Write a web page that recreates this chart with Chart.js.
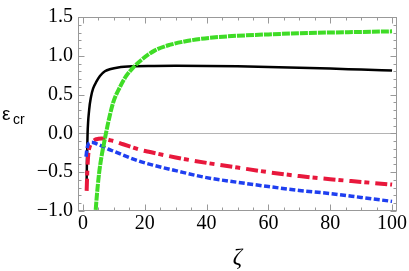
<!DOCTYPE html>
<html>
<head>
<meta charset="utf-8">
<script src="https://cdn.jsdelivr.net/npm/chart.js"></script>
<style>
  body { margin: 0; background: #fff; }
  canvas { display: block; }
</style>
</head>
<body>
<canvas id="chartEps" width="409" height="271"></canvas>
<script>
// zeta values and eps_cr values, one pair of arrays per curve
const zetaBlack = [1.15, 1.3, 1.5, 2.0, 2.6, 3.3, 4.4, 5.5, 7.1, 9, 11.4, 16, 23, 30, 40, 50, 60, 70, 80, 90, 100];
const epsBlack  = [-0.72, -0.35, 0.0, 0.3, 0.47, 0.58, 0.67, 0.74, 0.80, 0.83, 0.85, 0.865, 0.87, 0.872, 0.87, 0.865, 0.855, 0.845, 0.835, 0.822, 0.81];

const zetaGreen = [3.9, 4.5, 5.2, 6, 6.9, 8.2, 9.8, 12, 14, 16.3, 19, 23.3, 28, 35, 42, 50, 60, 70, 80, 90, 100];
const epsGreen  = [-1.1, -0.8, -0.52, -0.3, -0.11, 0.146, 0.40, 0.60, 0.74, 0.85, 0.95, 1.07, 1.14, 1.20, 1.235, 1.258, 1.276, 1.29, 1.30, 1.307, 1.315];

const zetaRed = [1.2, 1.4, 1.7, 2.2, 3, 4, 5, 6, 7, 8.5, 10, 13, 18.4, 21.7, 30, 40, 50, 60, 70, 80, 90, 100];
const epsRed  = [-0.74, -0.50, -0.28, -0.17, -0.11, -0.08, -0.07, -0.066, -0.07, -0.085, -0.10, -0.14, -0.21, -0.24, -0.31, -0.38, -0.44, -0.50, -0.55, -0.59, -0.625, -0.66];

const zetaBlue = [1.0, 1.3, 1.7, 2.2, 2.8, 3.5, 4.5, 6, 8, 10, 13, 18.4, 22.8, 30, 40, 50, 60, 70, 80, 90, 100];
const epsBlue  = [-0.30, -0.20, -0.14, -0.12, -0.115, -0.12, -0.135, -0.16, -0.20, -0.23, -0.28, -0.36, -0.41, -0.48, -0.57, -0.63, -0.685, -0.735, -0.775, -0.825, -0.876];

const xTicks = [0, 20, 40, 60, 80, 100];
const yTicks = [-1.0, -0.5, 0.0, 0.5, 1.0, 1.5];

const pts = (xs, ys) => xs.map((x, i) => ({x: x, y: ys[i]}));

const line = (data, color, width, dash, order) => ({
  data: data,
  borderColor: color,
  borderWidth: width,
  borderDash: dash,
  borderCapStyle: 'butt',
  pointRadius: 0,
  cubicInterpolationMode: 'monotone',
  fill: false,
  order: order
});

// frame, inside ticks, zero line and the axis labels
const framePlugin = {
  id: 'frame',
  beforeDatasetsDraw(chart) {
    const {ctx, chartArea: a, scales: {x, y}} = chart;
    ctx.save();
    ctx.strokeStyle = '#b4b4b4';
    ctx.lineWidth = 1;
    const y0 = Math.round(y.getPixelForValue(0)) + 0.5;
    ctx.beginPath();
    ctx.moveTo(a.left, y0);
    ctx.lineTo(a.right, y0);
    ctx.stroke();
    ctx.restore();
  },
  afterDatasetsDraw(chart) {
    const {ctx, chartArea: a, scales: {x, y}} = chart;
    ctx.save();
    ctx.strokeStyle = '#999';
    ctx.lineWidth = 1;
    const L = Math.round(a.left) + 0.5, R = Math.round(a.right) - 0.5;
    const T = Math.round(a.top) + 0.5, B = Math.round(a.bottom) - 0.5;
    ctx.strokeRect(L, T, R - L, B - T);
    ctx.beginPath();
    for (let v = 0; v <= 100; v += 5) {
      const px = Math.round(x.getPixelForValue(v)) + 0.5;
      const len = v % 20 === 0 ? 6 : 3;
      ctx.moveTo(px, B); ctx.lineTo(px, B - len);
      ctx.moveTo(px, T); ctx.lineTo(px, T + len);
    }
    for (let k = -10; k <= 15; k++) {
      const py = Math.round(y.getPixelForValue(k / 10)) + 0.5;
      const len = k % 5 === 0 ? 6 : 3;
      ctx.moveTo(L, py); ctx.lineTo(L + len, py);
      ctx.moveTo(R, py); ctx.lineTo(R - len, py);
    }
    ctx.stroke();

    ctx.fillStyle = '#000';
    ctx.textBaseline = 'alphabetic';
    ctx.font = '19px "Liberation Sans"';
    ctx.fillText('ε', 2, 120);
    ctx.font = '14px "Liberation Sans"';
    ctx.fillText('cr', 13, 124);

    ctx.font = 'italic 23px "Liberation Serif"';
    ctx.textAlign = 'center';
    ctx.fillText('ζ', (a.left + a.right) / 2, 264);
    ctx.restore();
  }
};

new Chart(document.getElementById('chartEps'), {
  type: 'line',
  data: {
    datasets: [
      line(pts(zetaGreen, epsGreen), '#3fdc26', 4, [8, 1], 0),
      line(pts(zetaBlue, epsBlue), '#1f3ff0', 3.5, [6, 2.5], 1),
      line(pts(zetaRed, epsRed), '#e8183c', 4, [12, 3, 5, 6], 2),
      line(pts(zetaBlack, epsBlack), '#000000', 2.5, [], 3)
    ]
  },
  options: {
    responsive: false,
    devicePixelRatio: 1,
    animation: false,
    layout: {padding: {left: 0, top: 13, right: 12, bottom: 0}},
    plugins: {legend: {display: false}, tooltip: {enabled: false}},
    scales: {
      x: {
        type: 'linear',
        min: -1.6,
        max: 101.6,
        afterBuildTicks: s => { s.ticks = xTicks.map(v => ({value: v})); },
        afterFit: s => { s.height = 60; },
        grid: {display: false, drawTicks: false},
        border: {display: false},
        ticks: {
          padding: 1,
          color: '#000',
          font: {family: '"Liberation Serif"', size: 20},
          maxRotation: 0,
          callback: v => String(v)
        }
      },
      y: {
        type: 'linear',
        min: -1,
        max: 1.5,
        afterBuildTicks: s => { s.ticks = yTicks.map(v => ({value: v})); },
        afterFit: s => { s.width = 78; },
        grid: {display: false, drawTicks: false},
        border: {display: false},
        ticks: {
          padding: 5,
          color: '#000',
          font: {family: '"Liberation Serif"', size: 20},
          callback: v => v.toFixed(1).replace('-', '\u2212')
        }
      }
    }
  },
  plugins: [framePlugin]
});
</script>
</body>
</html>
